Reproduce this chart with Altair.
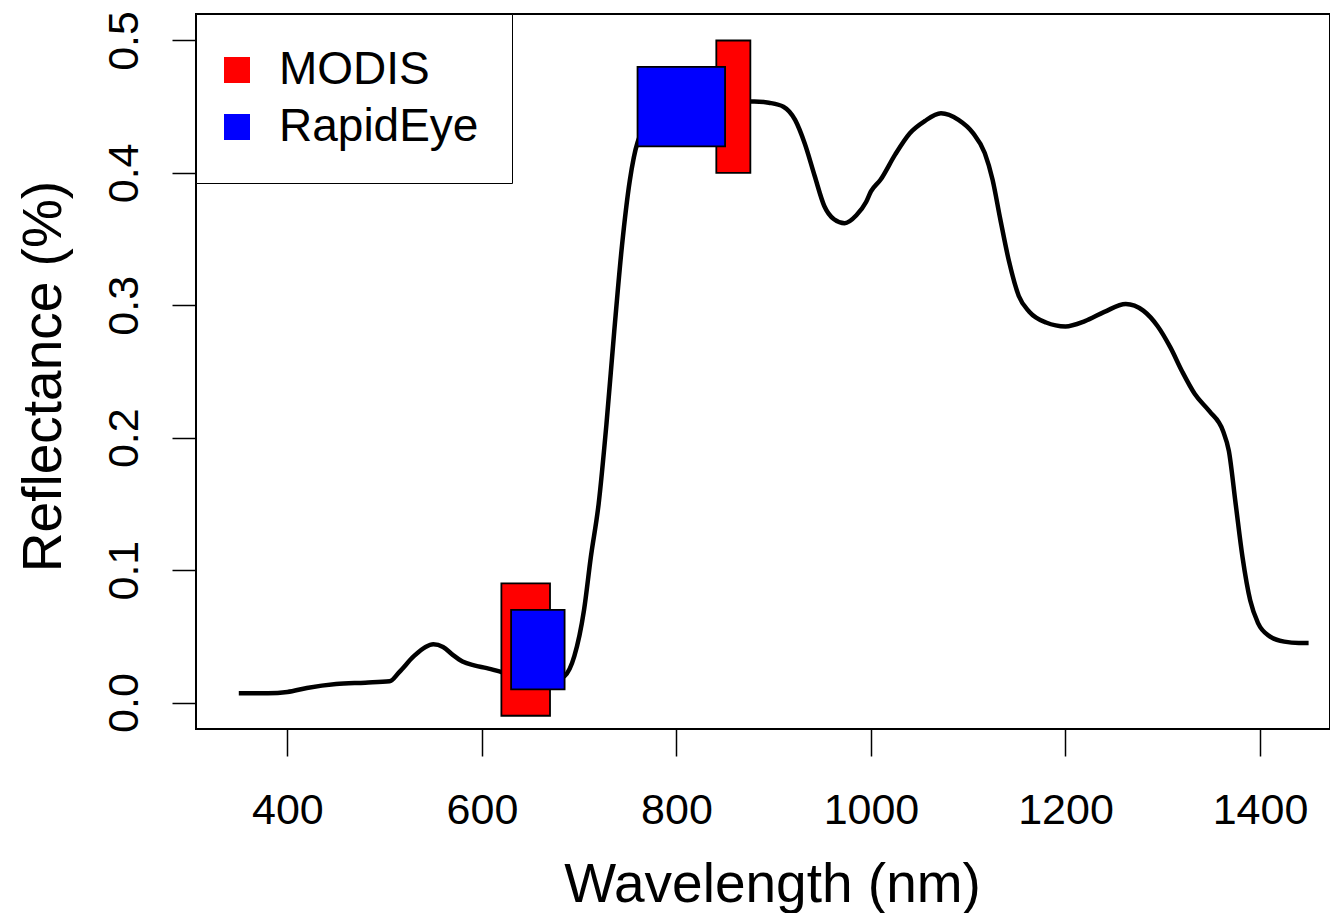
import altair as alt
import pandas as pd

# Reflectance curve
wavelength = [350, 380, 400, 420, 450, 480, 505, 515, 530, 542, 550, 560, 570, 580, 592, 605,
              620, 640, 660, 675, 685, 695, 705, 712, 720, 728, 736, 744, 752, 760, 775,
              800, 830, 860, 880, 895, 910, 922, 932, 942, 952, 962, 973, 985, 995, 1000,
              1010, 1025, 1040, 1055, 1072, 1090, 1105, 1117, 1125, 1133, 1142, 1152, 1163,
              1180, 1200, 1220, 1240, 1262, 1280, 1295, 1308, 1320, 1333, 1348, 1362, 1368,
              1375, 1382, 1390, 1398, 1410, 1425, 1440, 1450]
reflectance = [0.007, 0.007, 0.008, 0.011, 0.014, 0.015, 0.016, 0.023, 0.035, 0.042, 0.044,
               0.042, 0.036, 0.031, 0.028, 0.026, 0.023, 0.019, 0.017, 0.017, 0.020, 0.035,
               0.070, 0.110, 0.150, 0.210, 0.280, 0.345, 0.394, 0.423, 0.440, 0.448, 0.452,
               0.454, 0.454, 0.453, 0.450, 0.440, 0.422, 0.398, 0.375, 0.365, 0.362, 0.368,
               0.378, 0.386, 0.395, 0.414, 0.430, 0.439, 0.445, 0.440, 0.430, 0.415, 0.395,
               0.365, 0.333, 0.307, 0.295, 0.287, 0.284, 0.288, 0.295, 0.301, 0.296, 0.284,
               0.268, 0.250, 0.233, 0.220, 0.205, 0.190, 0.150, 0.110, 0.077, 0.060, 0.050,
               0.046, 0.045, 0.045]

# Sensor bands
sensor = ["MODIS", "MODIS", "RapidEye", "RapidEye"]
band_start = [620, 841, 630, 760]
band_end = [670, 876, 685, 850]
band_low = [-0.01, 0.40, 0.01, 0.42]
band_high = [0.09, 0.50, 0.07, 0.48]

x_ticks = [400, 600, 800, 1000, 1200, 1400]
y_ticks = [0.0, 0.1, 0.2, 0.3, 0.4, 0.5]

curve = pd.DataFrame({"wavelength": wavelength, "reflectance": reflectance})
bands = pd.DataFrame({"sensor": sensor, "start": band_start, "end": band_end,
                      "low": band_low, "high": band_high})

FONT = "Liberation Sans"
xscale = alt.Scale(domain=[306, 1472], nice=False, zero=False)
yscale = alt.Scale(domain=[-0.02, 0.52], nice=False, zero=False)

x_axis = alt.Axis(values=x_ticks, title="Wavelength (nm)", format="d",
                  tickSize=27, labelPadding=67, labelBaseline="alphabetic",
                  labelFontSize=43, titleBaseline="alphabetic", titleY=172,
                  titleX=576, titleAlign="center")
y_axis = alt.Axis(values=y_ticks, title="Reflectance (%)", format=".1f",
                  tickSize=24, labelPadding=35, labelAngle=270, labelAlign="center",
                  labelBaseline="alphabetic", labelFontSize=43,
                  titleAngle=270, titleBaseline="alphabetic", titleX=-136, titleY=362,
                  titleAlign="center")

line = alt.Chart(curve).mark_line(color="black", strokeWidth=4.5, interpolate="monotone").encode(
    x=alt.X("wavelength:Q", scale=xscale, axis=x_axis),
    y=alt.Y("reflectance:Q", scale=yscale, axis=y_axis),
)

rects = alt.Chart(bands).mark_rect(stroke="black", strokeWidth=1.8, opacity=1).encode(
    x=alt.X("start:Q", scale=xscale),
    x2="end:Q",
    y=alt.Y("low:Q", scale=yscale),
    y2="high:Q",
    color=alt.Color("sensor:N",
                    scale=alt.Scale(domain=["MODIS", "RapidEye"], range=["#ff0000", "#0000ff"]),
                    legend=alt.Legend(title=None, orient="top-left", offset=0, padding=33,
                                      fillColor="white", strokeColor="black",
                                      symbolType="square", symbolSize=676,
                                      symbolStrokeWidth=0, symbolOpacity=1,
                                      symbolOffset=-15,
                                      labelFontSize=46, labelOffset=19, rowPadding=11,
                                      labelLimit=1000,
                                      labelFont=FONT, labelColor="black")),
)

chart = alt.layer(line, rects).properties(
    width=1134, height=715,
    padding={"left": 196, "top": 14, "right": 0, "bottom": 184},
    autosize=alt.AutoSizeParams(type="none"),
    background="white",
).configure_axis(
    domain=False, grid=False, tickColor="black", tickWidth=1.5,
    labelColor="black", titleColor="black", labelFont=FONT, titleFont=FONT,
    titleFontSize=55, titleFontWeight="normal",
).configure_view(
    stroke="black", strokeWidth=2
)

chart.save("out.html", embed_options={"renderer": "svg", "actions": False})
